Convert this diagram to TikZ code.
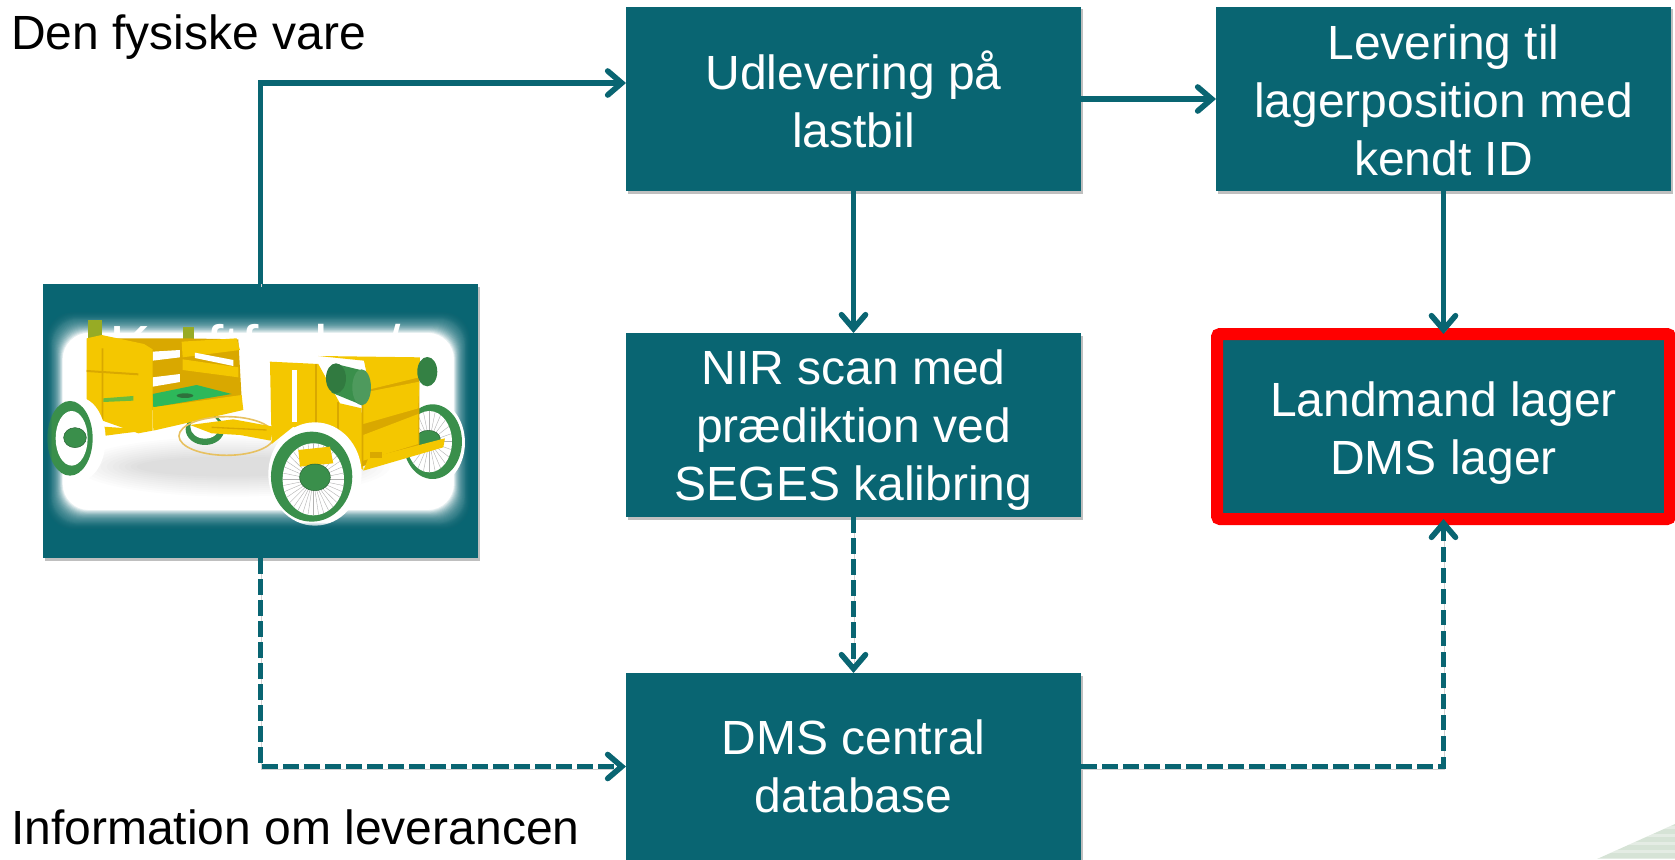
\documentclass[tikz,border=0pt]{standalone}
\usepackage{fontspec}
\setmainfont{Liberation Sans}
\usepackage{xcolor}
\usetikzlibrary{arrows.meta, positioning, calc, shadows}
\definecolor{dmsteal}{HTML}{096572}
\definecolor{cartyellow}{HTML}{F4C700}
\definecolor{cartshade}{HTML}{D9A800}
\definecolor{cartgreen}{HTML}{3A8F4B}
\definecolor{seatgreen}{HTML}{2DB85A}
\definecolor{cornergreen}{HTML}{D6E3D6}
\tikzset{
    stepbox/.style={
        rectangle,
        fill=dmsteal,
        text=white,
        inner sep=0pt,
        outer sep=0pt,
        minimum width=455pt,
        minimum height=184pt,
        align=center,
        font=\fontsize{48}{58}\selectfont,
        drop shadow={shadow xshift=1.5pt, shadow yshift=-2.5pt, opacity=0.25, fill=black}
    },
    lagerbox/.style={
        stepbox,
        draw=red,
        line width=12pt,
        rounded corners=3pt,
        minimum width=453pt,
        minimum height=185pt
    },
    caption/.style={
        inner sep=0pt,
        font=\fontsize{48}{58}\selectfont
    },
    hidden/.style={
        inner sep=0pt,
        text=white,
        font=\fontsize{48}{58}\selectfont
    },
    wire/.style={
        draw=dmsteal,
        line width=5.6pt,
        -{Straight Barb[length=14pt,width=24pt,line cap=round]},
        preaction={draw=black!18, transform canvas={xshift=1pt,yshift=-2.5pt}}
    },
    infowire/.style={
        wire,
        dash pattern=on 15.5pt off 5.5pt
    },
    body/.style={fill=cartyellow},
    shade/.style={fill=cartshade},
    gap/.style={fill=white},
    tyre/.style={fill=white},
    ring/.style={fill=cartgreen},
    hub/.style={fill=cartgreen, draw=cartgreen!70!black, line width=0.5pt}
}
% teal vignette around the picture, in zoom units
\newcommand{\vignette}[1]{
    \foreach \d in {#1} {
        \fill[dmsteal, opacity=0.1, even odd rule, rounded corners=26pt]
            (70,42) rectangle (1373,863)
            (80+\d,126+1.3*\d) rectangle (1350-\d,778-1.2*\d);
    }
}
% pushes a box text down by half its height
\newcommand{\topgap}[1]{\rule{0pt}{#1}}

\begin{document}
\begin{tikzpicture}[x=1pt, y=-1pt]
\useasboundingbox (0,0) rectangle (1675,859);

% Corner mark
\begin{scope}
\clip (1597,859) -- (1675,824) -- (1675,859) -- cycle;
\fill[cornergreen] (1597,824) rectangle (1675,859);
\foreach \s in {0,8,...,32} \fill[white, opacity=0.35] (1597,826+\s) rectangle (1675,829+\s);
\end{scope}

% Boxes
\node[stepbox] (udlevering) at (853.5,99) {Udlevering på\\lastbil};
\node[stepbox, right=135pt of udlevering] (levering) {\topgap{38pt}Levering til\\lagerposition med\\kendt ID};
\node[stepbox, below=142pt of udlevering] (nir) {\topgap{45pt}NIR scan med\\prædiktion ved\\SEGES kalibring};
\node[stepbox, below=156pt of nir, minimum height=187pt] (central) {DMS central\\database};
\node[lagerbox] (lager) at (1443.5,426.5) {\topgap{48pt}Landmand lager\\DMS lager};
\node[stepbox, minimum width=435pt, minimum height=274pt] (kraftfoder) at (260.5,421) {};

% Labels
\node[caption, anchor=base west] (fysisk) at (11,50) {Den fysiske vare};
\node[caption, anchor=base west] (info) at (11,844) {Information om leverancen};

% Picture on the feed box
\begin{scope}[shift={(20,270)}, x=0.3333pt, y=-0.3333pt]
\fill[white, rounded corners=26pt] (80,126) rectangle (1350,778);
\vignette{0,2,...,48}
\node[hidden, scale=1.3] (feedtop) at (705,232) {Kraftfoder/};
\node[hidden, scale=0.87] (feedbottom) at (695,675) {fra leverandør};

% shadow on the floor
\foreach \r in {0,6,...,60}
    \fill[black, opacity=0.012] (640,590) ellipse (470-\r*3 and 90-\r);

% back wheels
\fill[ring] (555,478) ellipse (58 and 47);
\fill[white] (555,470) ellipse (44 and 36);
\fill[tyre] (1235,518) ellipse (100 and 128);
\fill[ring] (1238,515) ellipse (88 and 112);
\fill[white] (1228,515) ellipse (68 and 92);
\foreach \a in {0,15,...,345}
    \draw[black!30, line width=0.4pt] (1228,515) -- ++(\a:68 and 92);
\fill[hub] (1225,507) ellipse (36 and 26);

% front cart
\fill[cartgreen!50!cartyellow] (205,150) rectangle (245,210);
\fill[cartgreen!50!cartyellow] (490,170) rectangle (522,210);
\fill[shade] (245,205) -- (490,205) -- (655,208) -- (665,385) -- (395,420) -- (250,400) -- cycle;
\fill[body] (485,215) -- (650,205) -- (660,240) -- (488,262) -- cycle;
\fill[body] (488,268) -- (655,292) -- (655,322) -- (488,300) -- cycle;
\fill[gap] (398,245) -- (480,240) -- (480,262) -- (398,272) -- cycle;
\fill[gap] (398,322) -- (480,312) -- (480,336) -- (398,350) -- cycle;
\fill[gap] (525,264) -- (640,288) -- (640,270) -- (525,248) -- cycle;
\fill[seatgreen] (398,372) -- (530,345) -- (635,372) -- (400,412) -- cycle;
\fill[cartgreen!80!black] (495,377) ellipse (25 and 7);
\fill[body] (398,412) -- (665,375) -- (670,420) -- (400,482) -- cycle;
\fill[body] (200,205) -- (245,195) -- (372,222) -- (398,238) -- (398,482) -- (355,490) -- (248,452) -- (200,400) -- cycle;
\fill[shade] (245,235) -- (245,445) -- (250,450) -- (250,235) -- cycle;
\fill[shade] (200,300) -- (355,310) -- (355,316) -- (200,306) -- cycle;
\fill[seatgreen!70!cartyellow] (250,385) -- (340,378) -- (340,392) -- (250,396) -- cycle;
\fill[body] (250,470) -- (395,480) -- (310,490) -- (250,498) -- cycle;

% left wheel
\fill[tyre] (175,508) ellipse (82 and 126);
\fill[ring] (150,505) ellipse (68 and 112);
\fill[white] (155,505) ellipse (48 and 82);
\fill[hub] (165,503) ellipse (34 and 30);

% hoop and board
\draw[cartyellow!55!brown!70!white, line width=1.6pt] (620,498) ellipse (143 and 58);
\fill[body] (510,465) -- (640,448) -- (760,470) -- (752,512) -- (660,495) -- (575,490) -- cycle;
\fill[shade] (575,470) -- (740,478) -- (740,482) -- (575,474) -- cycle;

% back cart
\fill[body] (750,275) -- (895,282) -- (960,400) -- (1025,415) -- (1030,600) -- (820,470) -- (755,522) -- cycle;
\fill[white] (815,300) rectangle (830,455);
\fill[shade] (885,282) rectangle (890,480);
\fill[shade] (950,395) rectangle (958,510);
\fill[shade] (1025,360) -- (1198,320) -- (1198,530) -- (1025,590) -- cycle;
\fill[body] (895,258) -- (1200,262) -- (1198,322) -- (1050,358) -- (1032,272) -- cycle;
\fill[body] (1030,368) -- (1198,335) -- (1195,415) -- (1030,462) -- cycle;
\fill[body] (1030,495) -- (1195,432) -- (1195,522) -- (1030,572) -- cycle;
\fill[body] (1045,565) -- (1275,505) -- (1270,532) -- (1030,602) -- cycle;
\fill[shade] (1050,545) rectangle (1085,565);

% rollers
\fill[cartgreen!90!black] (1222,305) ellipse (30 and 44);
\fill[cartgreen] (948,282) -- (1030,302) -- (1025,405) -- (935,368) -- cycle;
\fill[cartgreen!85!black] (948,325) ellipse (30 and 45);
\fill[cartgreen!90!white] (1025,352) ellipse (28 and 54);

% front wheel
\fill[tyre] (885,612) ellipse (140 and 155);
\fill[ring] (875,620) ellipse (122 and 135);
\fill[white] (880,628) ellipse (92 and 108);
\foreach \a in {0,10,...,350}
    \draw[black!30, line width=0.4pt] (880,628) -- ++(\a:92 and 108);
\fill[cartyellow] (835,540) -- (930,530) -- (940,580) -- (840,590) -- cycle;
\fill[hub] (885,622) ellipse (46 and 40);
\vignette{0,2,...,16}
\end{scope}

% Physical goods
\draw[wire] (kraftfoder.north) |- ([yshift=16pt]udlevering.west);
\draw[wire] (udlevering) -- (levering);
\draw[wire] (udlevering) -- (nir);
\draw[wire] (levering) -- (lager);

% Information
\draw[infowire] (kraftfoder.south) |- (central.west);
\draw[infowire] (nir) -- (central);
\draw[infowire] (central.east) -| (lager.south);

\end{tikzpicture}
\end{document}
